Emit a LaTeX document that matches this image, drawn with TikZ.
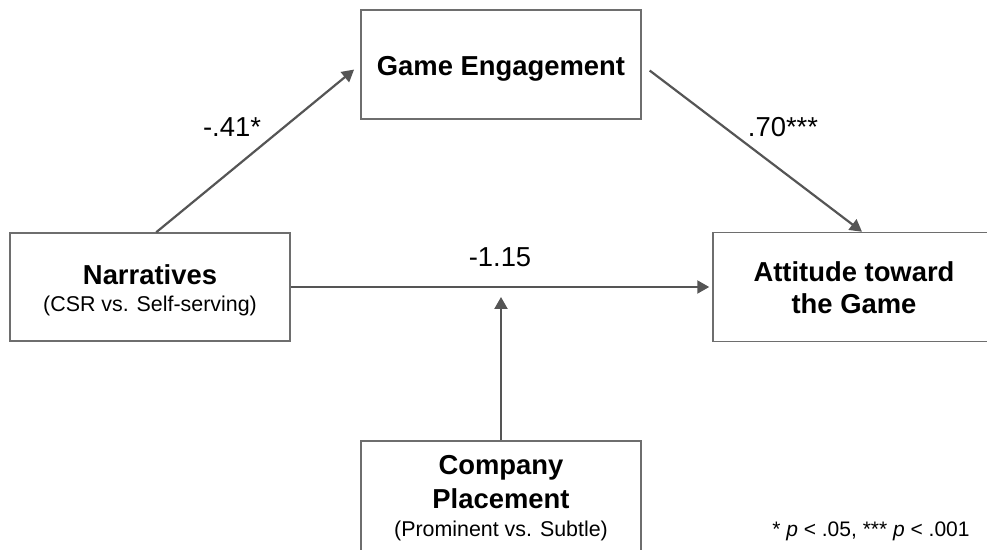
\documentclass[tikz,border=0pt]{standalone}
\usepackage{fontspec}
\setmainfont{Liberation Sans}
\usetikzlibrary{arrows.meta,calc}
\definecolor{linegray}{HTML}{555555}
\definecolor{boxgray}{HTML}{6E6E6E}
\newcommand{\boxtitlefont}{\fontsize{13.7pt}{16pt}\selectfont\bfseries}
\newcommand{\boxsubfont}{\fontsize{10.7pt}{13pt}\selectfont}
\newcommand{\coeffont}{\fontsize{13.7pt}{16pt}\selectfont}
\newcommand{\notefont}{\fontsize{10.5pt}{12pt}\selectfont}
\begin{document}
\begin{tikzpicture}[x=0.5pt,y=-0.5pt,
  box/.style={draw=boxgray,line width=0.75pt,rectangle,inner sep=0pt},
  ttl/.style={font=\boxtitlefont,anchor=base,inner sep=0pt},
  sub/.style={font=\boxsubfont,anchor=base,inner sep=0pt},
  arr/.style={draw=linegray,line width=1.1pt,-{Triangle[length=6pt,width=6.5pt]}},
  coef/.style={font=\coeffont,anchor=base,inner sep=0pt}]
\clip (0,0) rectangle (987,550);
\fill[white] (0,0) rectangle (987,550);

% boxes
\node[box,minimum width=140pt,minimum height=54.5pt] (game) at (501,64.5) {};
\node[box,minimum width=140pt,minimum height=54pt] (narr) at (150,287) {};
\node[box,minimum width=141pt,minimum height=54.5pt] (att) at (854,287) {};
\node[box,minimum width=140pt,minimum height=59pt] (comp) at (501,500) {};

% box texts
\node[ttl] (gameT) at (501,76) {Game Engagement};
\node[ttl] (narrT) at (150,285) {Narratives};
\node[sub] (narrS) at (150,312) {(CSR vs. Self-serving)};
\node[ttl] (attT1) at (854,282) {Attitude toward};
\node[ttl] (attT2) at (854,314) {the Game};
\node[ttl] (compT1) at (501,475) {Company};
\node[ttl] (compT2) at (501,509) {Placement};
\node[sub] (compS) at (501,537) {(Prominent vs. Subtle)};

% connectors
\coordinate (nstart) at ($(narr.north west)+(147,0)$);
\coordinate (aend) at ($(att.north)+(8,0)$);
\draw[arr,shorten >=4pt] (nstart) -- (game.west);
\draw[arr,shorten <=5pt] (game.east) -- (aend);
\draw[arr,shorten >=1.5pt] (narr.east) -- (att.west);
\draw[arr,shorten >=5pt] (comp.north) -- (comp.north |- narr.east);

% coefficients
\node[coef] (c1) at (232,137) {-.41*};
\node[coef] (c2) at (783,137) {.70***};
\node[coef] (c3) at (500,267) {-1.15};
\node[font=\notefont,anchor=base east,inner sep=0pt] (note) at (970,537)
  {* \textit{p} < .05, *** \textit{p} < .001};
\end{tikzpicture}
\end{document}
